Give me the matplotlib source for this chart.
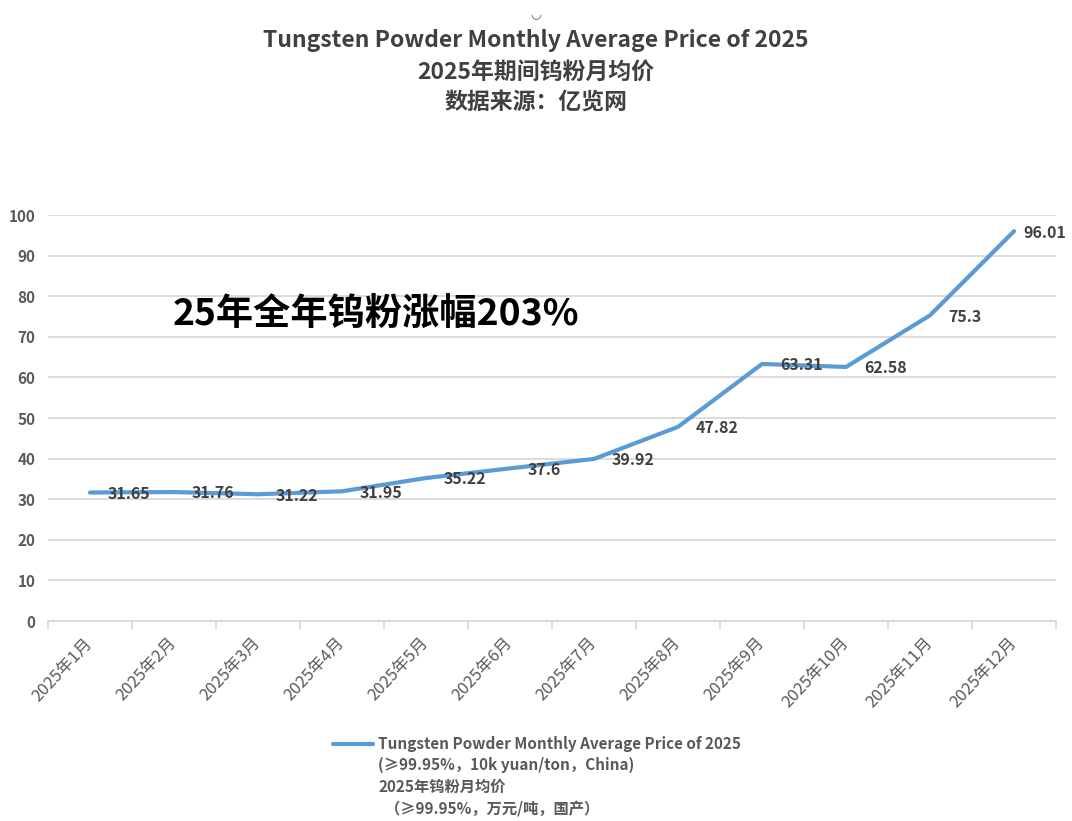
import numpy as np
import matplotlib
matplotlib.use('Agg')
import matplotlib.pyplot as plt
from matplotlib.lines import Line2D

plt.rcParams['font.family'] = ['Noto Sans CJK SC', 'DejaVu Sans']

# data
months = ['2025年1月', '2025年2月', '2025年3月', '2025年4月', '2025年5月', '2025年6月',
          '2025年7月', '2025年8月', '2025年9月', '2025年10月', '2025年11月', '2025年12月']
prices = [31.65, 31.76, 31.22, 31.95, 35.22, 37.6, 39.92, 47.82, 63.31, 62.58, 75.3, 96.01]
price_labels = ['31.65', '31.76', '31.22', '31.95', '35.22', '37.6',
                '39.92', '47.82', '63.31', '62.58', '75.3', '96.01']
yticks = [0, 10, 20, 30, 40, 50, 60, 70, 80, 90, 100]

blue = '#5B9BD5'
gray = '#595959'

fig = plt.figure(figsize=(10.72, 8.21), dpi=100)
ax = fig.add_axes([0.0448, 0.2436, 0.9403, 0.4945])

x = np.arange(len(months))
ax.plot(x, prices, color=blue, lw=3.0, solid_capstyle='round', zorder=3)

# data labels to the right of each point (last one squeezed in so it fits)
for xi, yi, lab in zip(x, prices, price_labels):
    dx = 7 if xi == x[-1] else 13
    ax.annotate(lab, (xi, yi), xytext=(dx, -1), textcoords='offset points',
                ha='left', va='center', fontsize=11.5, fontweight='bold',
                color='#404040', zorder=4, annotation_clip=False)

ax.set_xlim(-0.5, len(months) - 0.5)
ax.set_ylim(0, 100)
ax.set_yticks(yticks)
ax.set_yticklabels([str(v) for v in yticks], fontsize=11, fontweight='bold', color=gray)
ax.yaxis.grid(True, color='#D9D9D9', lw=1.3)
ax.set_axisbelow(True)
ax.tick_params(axis='y', length=0, pad=9)

# category ticks sit between categories
ax.set_xticks(np.arange(-0.5, len(months) + 0.5, 1.0), minor=False)
ax.set_xticklabels([''] * (len(months) + 1))
ax.tick_params(axis='x', which='major', length=6, color='#D9D9D9', width=1.3)
ax.set_xticks(x, minor=True)
ax.set_xticklabels(months, minor=True, rotation=47, ha='right', va='center',
                   rotation_mode='anchor', fontsize=12, color=gray)
ax.tick_params(axis='x', which='minor', length=0, pad=14)

for s in ['top', 'right', 'left']:
    ax.spines[s].set_visible(False)
ax.spines['bottom'].set_color('#D9D9D9')
ax.spines['bottom'].set_linewidth(1.3)

# big annotation
fig.text(0.161, 0.616, '25年全年钨粉涨幅203%', fontsize=26.8, fontweight='bold',
         color='black', ha='left', va='center')

# titles
fig.text(0.5, 0.99, '◡', fontsize=9, color=gray, ha='center', va='top',
         family=['DejaVu Sans'])
fig.text(0.5, 0.951, 'Tungsten Powder Monthly Average Price of 2025', fontsize=16.5,
         fontweight='bold', color='#404040', ha='center', va='center')
fig.text(0.5, 0.912, '2025年期间钨粉月均价', fontsize=16.5,
         fontweight='bold', color='#404040', ha='center', va='center')
fig.text(0.5, 0.875, '数据来源：亿览网', fontsize=16.5,
         fontweight='bold', color='#404040', ha='center', va='center')

# legend
fig.add_artist(Line2D([0.311, 0.348], [0.0935, 0.0935], transform=fig.transFigure,
                      color=blue, lw=3.0, solid_capstyle='round'))
leg_lines = ['Tungsten Powder Monthly Average Price of 2025',
             '(≥99.95%，10k yuan/ton，China)',
             '2025年钨粉月均价',
             '  （≥99.95%，万元/吨，国产）']
for i, t in enumerate(leg_lines):
    fig.text(0.353, 0.094 - i * 0.0262, t, fontsize=11, fontweight='bold',
             color=gray, ha='left', va='center')

fig.savefig('out.png', dpi=100)
